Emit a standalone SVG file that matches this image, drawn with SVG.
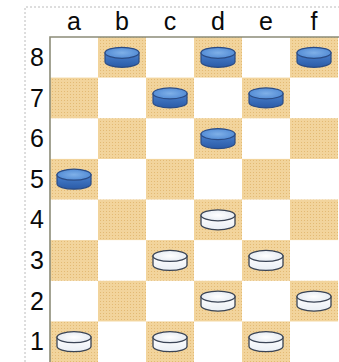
<svg xmlns="http://www.w3.org/2000/svg" xmlns:xlink="http://www.w3.org/1999/xlink" width="339" height="362" viewBox="0 0 339 362">
<style>
.lbl{font-family:"Liberation Sans",Arial,sans-serif;font-size:25px;fill:#0a0a0a;text-anchor:middle}
.tan{fill:url(#tex)}
.frame{fill:none;stroke:#bcbcbc;stroke-width:1;stroke-dasharray:2 2}
</style>
<defs>
<pattern id="tex" width="3" height="3" patternUnits="userSpaceOnUse">
<rect width="3" height="3" fill="#F2D49C"/>
<rect x="1" y="1" width="1" height="1" fill="#E3BA74"/>
</pattern>
<linearGradient id="bSide" x1="0" y1="0" x2="0" y2="1">
<stop offset="0" stop-color="#4A82CF"/>
<stop offset="1" stop-color="#2A5AA6"/>
</linearGradient>
<radialGradient id="bTop" cx="0.5" cy="0.5" r="0.6">
<stop offset="0" stop-color="#7FB0E8"/>
<stop offset="1" stop-color="#4C86D2"/>
</radialGradient>
<linearGradient id="wSide" x1="0" y1="0" x2="0" y2="1">
<stop offset="0" stop-color="#FFFFFF"/>
<stop offset="1" stop-color="#E9EEF4"/>
</linearGradient>
<radialGradient id="wTop" cx="0.5" cy="0.5" r="0.6">
<stop offset="0" stop-color="#FFFFFF"/>
<stop offset="1" stop-color="#E2E8F0"/>
</radialGradient>
<g id="pb">
<path d="M-17,-4.5 V4.5 A17,5.5 0 0 0 17,4.5 V-4.5 Z" fill="url(#bSide)" stroke="#2B4C85" stroke-width="1.2"/>
<ellipse cx="0" cy="-4.5" rx="17" ry="5.5" fill="url(#bTop)" stroke="#2B4C85" stroke-width="1.2"/>
</g>
<g id="pw">
<path d="M-17,-4.5 V4.5 A17,5.5 0 0 0 17,4.5 V-4.5 Z" fill="url(#wSide)" stroke="#3A4455" stroke-width="1.3"/>
<ellipse cx="0" cy="-4.5" rx="17" ry="5.5" fill="url(#wTop)" stroke="#3A4455" stroke-width="1.3"/>
</g>
</defs>
<rect width="339" height="362" fill="#ffffff"/>
<path class="frame" d="M25,362 V7 H339"/>
<g id="board">
<rect x="50" y="37" width="288" height="325" fill="#ffffff"/>
<g id="tan-squares">
<rect class="tan" x="98" y="37" width="48" height="40.6"/>
<rect class="tan" x="194" y="37" width="48" height="40.6"/>
<rect class="tan" x="290" y="37" width="48" height="40.6"/>
<rect class="tan" x="50" y="77.6" width="48" height="40.7"/>
<rect class="tan" x="146" y="77.6" width="48" height="40.7"/>
<rect class="tan" x="242" y="77.6" width="48" height="40.7"/>
<rect class="tan" x="98" y="118.25" width="48" height="40.7"/>
<rect class="tan" x="194" y="118.25" width="48" height="40.7"/>
<rect class="tan" x="290" y="118.25" width="48" height="40.7"/>
<rect class="tan" x="50" y="158.9" width="48" height="40.6"/>
<rect class="tan" x="146" y="158.9" width="48" height="40.6"/>
<rect class="tan" x="242" y="158.9" width="48" height="40.6"/>
<rect class="tan" x="98" y="199.5" width="48" height="40.6"/>
<rect class="tan" x="194" y="199.5" width="48" height="40.6"/>
<rect class="tan" x="290" y="199.5" width="48" height="40.6"/>
<rect class="tan" x="50" y="240.1" width="48" height="40.7"/>
<rect class="tan" x="146" y="240.1" width="48" height="40.7"/>
<rect class="tan" x="242" y="240.1" width="48" height="40.7"/>
<rect class="tan" x="98" y="280.75" width="48" height="40.7"/>
<rect class="tan" x="194" y="280.75" width="48" height="40.7"/>
<rect class="tan" x="290" y="280.75" width="48" height="40.7"/>
<rect class="tan" x="50" y="321.4" width="48" height="40.6"/>
<rect class="tan" x="146" y="321.4" width="48" height="40.6"/>
<rect class="tan" x="242" y="321.4" width="48" height="40.6"/>
</g>
<path d="M50,363 V37 H339" fill="none" stroke="#8C8C78" stroke-width="1.6"/>
</g>
<g id="labels">
<text class="lbl" x="74" y="30">a</text>
<text class="lbl" x="122" y="30">b</text>
<text class="lbl" x="170" y="30">c</text>
<text class="lbl" x="218" y="30">d</text>
<text class="lbl" x="266" y="30">e</text>
<text class="lbl" x="314" y="30">f</text>
<text class="lbl" x="37" y="66">8</text>
<text class="lbl" x="37" y="107">7</text>
<text class="lbl" x="37" y="147">6</text>
<text class="lbl" x="37" y="188">5</text>
<text class="lbl" x="37" y="228">4</text>
<text class="lbl" x="37" y="269">3</text>
<text class="lbl" x="37" y="310">2</text>
<text class="lbl" x="37" y="350">1</text>
</g>
<g id="blue-pieces">
<use id="b8" href="#pb" x="122" y="57.3"/>
<use id="d8" href="#pb" x="218" y="57.3"/>
<use id="f8" href="#pb" x="314" y="57.3"/>
<use id="c7" href="#pb" x="170" y="97.9"/>
<use id="e7" href="#pb" x="266" y="97.9"/>
<use id="d6" href="#pb" x="218" y="138.6"/>
<use id="a5" href="#pb" x="74" y="179.2"/>
</g>
<g id="white-pieces">
<use id="d4" href="#pw" x="218" y="219.8"/>
<use id="c3" href="#pw" x="170" y="260.4"/>
<use id="e3" href="#pw" x="266" y="260.4"/>
<use id="d2" href="#pw" x="218" y="301.1"/>
<use id="f2" href="#pw" x="314" y="301.1"/>
<use id="a1" href="#pw" x="74" y="341.7"/>
<use id="c1" href="#pw" x="170" y="341.7"/>
<use id="e1" href="#pw" x="266" y="341.7"/>
</g>
</svg>
